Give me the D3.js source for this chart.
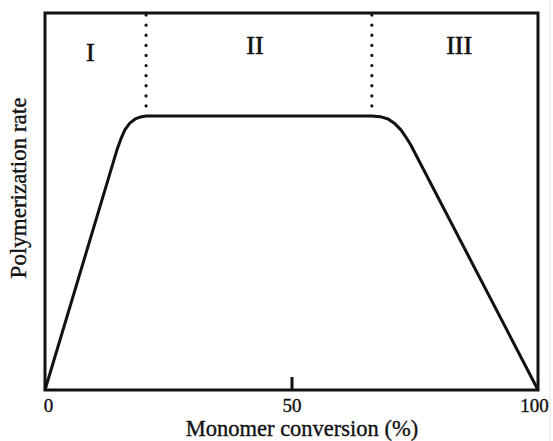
<!DOCTYPE html>
<html>
<head>
<meta charset="utf-8">
<script src="https://cdn.jsdelivr.net/npm/d3@7"></script>
<style>
  body { margin: 0; background: #fff; }
  svg text { font-family: "Liberation Serif", "Times New Roman", serif; fill: #111; stroke: #111; stroke-width: 0.35px; }
</style>
</head>
<body>
<svg id="chart" width="553" height="441"></svg>
<script>
"use strict";

// curve: conversion (%) vs relative rate (0-100)
var conversion = [0, 14.6, 15.4, 16.2, 17.2, 18.3, 19.3, 20.5, 66.3, 68.0, 69.6, 71.0, 72.2, 73.2, 74.2, 100];
var rate       = [0, 63.7, 66.6, 69.0, 70.8, 71.9, 72.4, 72.7, 72.7, 72.5, 71.9, 70.6, 69.0, 67.1, 65.0, 0];

// stage boundaries (dotted lines) and labels
var stageBounds = [20.5, 66.3];
var stageLabels = [
    {text: "I", x: 9.2, y: 89.5},
    {text: "II", x: 42.6, y: 91.5},
    {text: "III", x: 84, y: 91.3}
];

var xTicks = [0, 50, 100];

var margin = {top: 13, right: 15, bottom: 51, left: 45};
var width = 553 - margin.left - margin.right;
var height = 441 - margin.top - margin.bottom;

var svg = d3.select("#chart");
var g = svg.append("g")
    .attr("transform", "translate(" + margin.left + "," + margin.top + ")");

var x = d3.scaleLinear().domain([0, 100]).range([0, width]);
var y = d3.scaleLinear().domain([0, 100]).range([height, 0]);

// faint edge of the scanned image
svg.append("line")
    .attr("x1", 550).attr("x2", 550)
    .attr("y1", 0).attr("y2", 441)
    .attr("stroke", "#e4e4e4").attr("stroke-width", 1);

// dotted stage separators
g.selectAll(".stage")
    .data(stageBounds)
    .enter().append("line")
    .attr("class", "stage")
    .attr("x1", function(d) { return x(d); })
    .attr("x2", function(d) { return x(d); })
    .attr("y1", 2)
    .attr("y2", y(74.5))
    .attr("stroke", "#111")
    .attr("stroke-width", 3.2)
    .attr("stroke-linecap", "round")
    .attr("stroke-dasharray", "0.1,10");

// stage numerals
g.selectAll(".stageLabel")
    .data(stageLabels)
    .enter().append("text")
    .attr("class", "stageLabel")
    .attr("x", function(d) { return x(d.x); })
    .attr("y", function(d) { return y(d.y); })
    .attr("text-anchor", "middle")
    .attr("dominant-baseline", "central")
    .style("font-size", "26px")
    .style("stroke-width", "0.6px")
    .text(function(d) { return d.text; });

// the rate curve
var pts = conversion.map(function(c, i) { return [c, rate[i]]; });
var line = d3.line()
    .x(function(d) { return x(d[0]); })
    .y(function(d) { return y(d[1]); })
    .curve(d3.curveLinear);

g.append("path")
    .datum(pts)
    .attr("d", line)
    .attr("fill", "none")
    .attr("stroke", "#111")
    .attr("stroke-width", 3)
    .attr("stroke-linejoin", "round");

// x axis: labels below, inner tick at 50 only
var xAxis = d3.axisBottom(x)
    .tickValues(xTicks)
    .tickSizeInner(-13)
    .tickSizeOuter(0)
    .tickPadding(9)
    .tickFormat(d3.format("d"));

var axisG = g.append("g")
    .attr("transform", "translate(0," + height + ")")
    .call(xAxis);
axisG.select(".domain").remove();
axisG.selectAll(".tick line")
    .attr("stroke", "#111")
    .attr("stroke-width", 3)
    .attr("display", function(d) { return d === 50 ? null : "none"; });
axisG.selectAll(".tick text")
    .attr("fill", "#111")
    .style("font-family", "Liberation Serif, serif")
    .style("font-size", "19px")
    .attr("dx", function(d) { return d === 100 ? -4 : (d === 0 ? 3 : 0); });

// frame
g.append("rect")
    .attr("x", 0).attr("y", 0)
    .attr("width", width).attr("height", height)
    .attr("fill", "none")
    .attr("stroke", "#111")
    .attr("stroke-width", 3);

// axis titles
svg.append("text")
    .attr("x", 302)
    .attr("y", 436)
    .attr("text-anchor", "middle")
    .style("font-size", "22.5px")
    .text("Monomer conversion (%)");

svg.append("text")
    .attr("transform", "translate(26,188) rotate(-90)")
    .attr("text-anchor", "middle")
    .style("font-size", "23px")
    .text("Polymerization rate");
</script>
</body>
</html>
